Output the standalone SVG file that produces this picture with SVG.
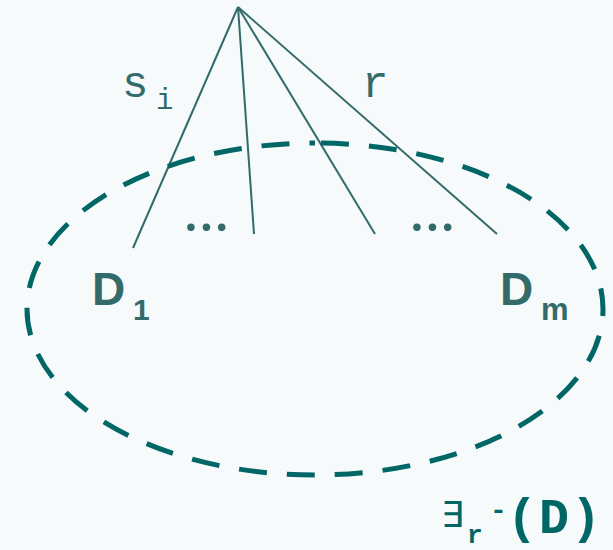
<svg xmlns="http://www.w3.org/2000/svg" width="613" height="550" viewBox="0 0 613 550">
<style>
.edge{stroke:#336b6b;stroke-width:2;fill:none}
.mono{font-family:"Liberation Mono",monospace;fill:#336b6b}
.lbl{font-family:"Liberation Sans",Arial,sans-serif;font-weight:bold;fill:#336b6b}
.dots{font-family:Lato,"Open Sans",sans-serif;font-weight:bold;fill:#336b6b;font-size:50px;letter-spacing:3.5px}
.set{fill:#006666}
</style>
<rect width="613" height="550" fill="#f6fafb"/>
<g id="connectors">
<line class="edge" x1="238" y1="7" x2="133" y2="248"/>
<line class="edge" x1="238" y1="7" x2="254" y2="234"/>
<line class="edge" x1="238" y1="7" x2="375" y2="234"/>
<line class="edge" x1="238" y1="7" x2="497" y2="234"/>
</g>
<g id="ellipse">
<path d="M315,143 A288,166 0 1 1 315,475 A288,166 0 1 1 315,143 Z" fill="none" stroke="#006666" stroke-width="5" stroke-dasharray="28 20" stroke-dashoffset="-6"/>
</g>
<g id="label-si">
<text class="mono" x="122" y="97" font-size="44">s</text>
<text class="mono" x="156" y="109" font-size="29">i</text>
</g>
<g id="label-r">
<text class="mono" x="362" y="97" font-size="44">r</text>
</g>
<g id="dots1"><text class="dots" x="185" y="231">...</text></g>
<g id="dots2"><text class="dots" x="411" y="231">...</text></g>
<g id="node-D1">
<text class="lbl" x="92" y="305" font-size="46">D</text>
<text class="lbl" x="133" y="320" font-size="30">1</text>
</g>
<g id="node-Dm">
<text class="lbl" x="500" y="305" font-size="46">D</text>
<text class="lbl" x="541" y="320" font-size="31">m</text>
</g>
<g id="label-set">
<text class="set" x="441" y="527" font-family="DejaVu Sans,sans-serif" font-size="36">∃</text>
<text class="set" x="467" y="543" font-family="Liberation Mono,monospace" font-weight="bold" font-size="26">r</text>
<text class="set" x="490" y="519" font-family="Liberation Mono,monospace" font-weight="bold" font-size="28">-</text>
<text class="set" x="507" y="533" font-family="Liberation Mono,monospace" font-weight="bold" font-size="50" letter-spacing="2">(D)</text>
</g>
</svg>
